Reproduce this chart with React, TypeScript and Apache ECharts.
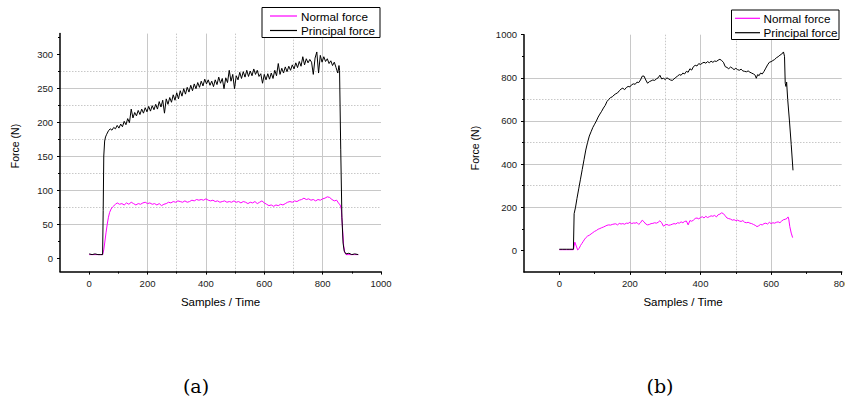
import React, { useEffect, useRef } from "react";
import * as echarts from "echarts";

// ---- Axis ticks ----
const A_X_MAJOR = [0, 200, 400, 600, 800, 1000];
const A_X_MINOR = [100, 300, 500, 700, 900];
const A_Y_MAJOR = [0, 50, 100, 150, 200, 250, 300];
const A_Y_MINOR = [25, 75, 125, 175, 225, 275, 325];
const B_X_MAJOR = [0, 200, 400, 600, 800];
const B_X_MINOR = [100, 300, 500, 700];
const B_Y_MAJOR = [0, 200, 400, 600, 800, 1000];
const B_Y_MINOR = [100, 300, 500, 700, 900];

const LEGEND_NAMES = ["Normal force", "Principal force"];
const X_TITLE = "Samples / Time";
const Y_TITLE = "Force (N)";
const CAPTIONS = ["(a)", "(b)"];

// ---- Chart (a) data: [sample, force N] ----
const aPrincipal = [
  [0, 6], [10, 5], [20, 6], [30, 5], [40, 5], [46, 5], [48, 70], [50, 150], [53, 172], [56, 178],
  [60, 182], [66, 187], [72, 190], [78, 188], [84, 192], [90, 190], [96, 195], [102, 191], [108, 197], [114, 193],
  [120, 201], [126, 196], [132, 205], [138, 199], [144, 219], [150, 206], [156, 214], [162, 209], [168, 217], [174, 211],
  [180, 219], [186, 213], [192, 221], [198, 215], [204, 223], [210, 216], [216, 224], [222, 218], [228, 226], [234, 219],
  [240, 230], [246, 222], [252, 232], [258, 213], [264, 234], [270, 226], [276, 236], [282, 229], [288, 240], [294, 232],
  [300, 243], [306, 234], [312, 246], [318, 238], [324, 249], [330, 241], [336, 251], [342, 244], [348, 254], [354, 246],
  [360, 256], [366, 249], [372, 258], [378, 251], [384, 260], [390, 253], [396, 263], [402, 256], [408, 262], [414, 254],
  [420, 260], [426, 252], [432, 262], [438, 255], [444, 266], [450, 257], [456, 264], [462, 249], [468, 265], [474, 258],
  [480, 276], [486, 260], [492, 270], [498, 249], [504, 268], [510, 262], [516, 273], [522, 264], [528, 274], [534, 266],
  [540, 276], [546, 267], [552, 275], [558, 268], [564, 278], [570, 270], [576, 276], [582, 267], [588, 271], [594, 257],
  [600, 270], [606, 262], [612, 271], [618, 263], [624, 272], [630, 264], [636, 276], [642, 268], [648, 286], [654, 270],
  [660, 279], [666, 272], [672, 281], [678, 274], [684, 282], [690, 276], [696, 284], [702, 278], [708, 287], [714, 280],
  [720, 289], [726, 282], [732, 296], [738, 284], [744, 293], [750, 287], [756, 292], [762, 288], [768, 270], [774, 294],
  [780, 303], [786, 272], [792, 298], [798, 288], [804, 296], [810, 289], [816, 293], [822, 286], [828, 290], [834, 283],
  [840, 288], [846, 280], [852, 272], [856, 283], [858, 276], [862, 160], [866, 60], [870, 22], [874, 10], [880, 6],
  [890, 7], [900, 5], [910, 6], [922, 5],
];

const aNormal = [
  [0, 5], [10, 5], [20, 5], [30, 5], [40, 5], [46, 5], [50, 12], [54, 25], [58, 38], [62, 50],
  [66, 60], [70, 67], [75, 72], [80, 75], [85, 77], [90, 79], [96, 81], [104, 79], [112, 80], [120, 78],
  [128, 81], [136, 79], [144, 82], [152, 80], [160, 78], [168, 80], [176, 79], [184, 81], [192, 82], [200, 80],
  [208, 81], [216, 79], [224, 80], [232, 78], [240, 80], [248, 77], [256, 79], [264, 80], [272, 82], [280, 81],
  [288, 83], [296, 82], [304, 84], [312, 83], [320, 82], [328, 84], [336, 82], [344, 83], [352, 85], [360, 84],
  [368, 86], [376, 85], [384, 86], [392, 85], [400, 87], [408, 85], [416, 84], [424, 85], [432, 83], [440, 84],
  [448, 82], [456, 83], [464, 84], [472, 82], [480, 83], [488, 82], [496, 84], [504, 82], [512, 83], [520, 81],
  [528, 83], [536, 82], [544, 80], [552, 82], [560, 81], [568, 83], [576, 80], [584, 82], [592, 84], [600, 81],
  [608, 79], [616, 77], [624, 78], [632, 76], [640, 78], [648, 77], [656, 79], [664, 78], [672, 80], [680, 82],
  [688, 83], [696, 82], [704, 84], [712, 83], [720, 85], [728, 86], [736, 88], [744, 86], [752, 87], [760, 85],
  [768, 86], [776, 84], [784, 86], [792, 85], [800, 87], [808, 88], [816, 90], [824, 89], [832, 86], [840, 84],
  [848, 85], [854, 81], [860, 78], [864, 72], [868, 45], [872, 18], [876, 8], [880, 5], [890, 5], [900, 5],
  [910, 5], [922, 5],
];

// ---- Chart (b) data ----
const bPrincipal = [
  [0, 5], [10, 5], [20, 5], [30, 5], [40, 5], [42, 170], [46, 200], [50, 240], [55, 285], [60, 330],
  [65, 375], [70, 420], [75, 465], [80, 500], [85, 530], [90, 550], [95, 570], [100, 585], [105, 600], [110, 618],
  [115, 632], [120, 645], [125, 660], [130, 672], [135, 690], [140, 700], [145, 708], [150, 712], [155, 720], [160, 726],
  [165, 730], [170, 740], [175, 748], [180, 752], [185, 745], [190, 755], [195, 760], [200, 758], [205, 768], [210, 772],
  [215, 770], [220, 780], [225, 778], [230, 790], [235, 808], [240, 808], [245, 790], [250, 775], [255, 782], [260, 786],
  [265, 790], [270, 788], [275, 795], [280, 800], [285, 812], [290, 795], [295, 798], [300, 792], [305, 800], [310, 795],
  [315, 790], [320, 788], [325, 795], [330, 802], [335, 808], [340, 815], [345, 812], [350, 822], [355, 818], [360, 830],
  [365, 826], [370, 842], [375, 836], [380, 852], [385, 858], [390, 855], [395, 866], [400, 862], [405, 868], [410, 872],
  [415, 868], [420, 875], [425, 870], [430, 877], [435, 872], [440, 878], [445, 876], [450, 882], [455, 886], [460, 880],
  [465, 872], [470, 852], [475, 848], [480, 842], [485, 850], [490, 845], [495, 838], [500, 844], [505, 838], [510, 835],
  [515, 840], [520, 832], [525, 830], [530, 828], [535, 832], [540, 826], [545, 822], [550, 818], [555, 812], [558, 798],
  [562, 815], [566, 810], [570, 822], [575, 818], [580, 830], [585, 845], [590, 860], [595, 872], [600, 875], [605, 880],
  [610, 885], [615, 893], [620, 898], [625, 905], [630, 910], [635, 920], [638, 900], [640, 775], [642, 760], [644, 780],
  [647, 700], [652, 600], [657, 490], [662, 371],
];

const bNormal = [
  [0, 3], [10, 3], [20, 3], [30, 3], [40, 3], [44, 38], [48, 20], [52, 2], [56, 8], [60, 22],
  [64, 32], [68, 42], [72, 52], [76, 60], [80, 66], [85, 70], [90, 76], [95, 82], [100, 88], [105, 92],
  [110, 98], [115, 101], [120, 105], [125, 108], [130, 112], [135, 116], [140, 118], [145, 117], [150, 120], [155, 122],
  [160, 123], [165, 118], [170, 125], [175, 122], [180, 124], [185, 121], [190, 126], [195, 125], [200, 130], [205, 124],
  [210, 127], [215, 126], [220, 129], [225, 120], [230, 128], [235, 140], [240, 132], [245, 122], [250, 118], [255, 120],
  [260, 124], [265, 125], [270, 128], [275, 126], [280, 130], [285, 137], [290, 128], [295, 112], [300, 118], [305, 120],
  [310, 116], [315, 118], [320, 121], [325, 124], [330, 122], [335, 128], [340, 126], [345, 132], [350, 128], [355, 134],
  [360, 136], [365, 118], [370, 138], [375, 135], [380, 140], [385, 148], [390, 150], [395, 146], [400, 152], [405, 156],
  [410, 150], [415, 158], [420, 152], [425, 156], [430, 160], [435, 158], [440, 162], [445, 155], [450, 165], [455, 168],
  [460, 174], [465, 170], [470, 160], [475, 150], [480, 147], [485, 145], [490, 140], [495, 142], [500, 138], [505, 140],
  [510, 136], [515, 134], [520, 138], [525, 130], [530, 128], [535, 130], [540, 126], [545, 124], [550, 120], [555, 116],
  [560, 110], [565, 114], [570, 120], [575, 118], [580, 124], [585, 126], [590, 122], [595, 130], [600, 124], [605, 128],
  [610, 126], [615, 130], [620, 132], [625, 128], [630, 136], [635, 142], [640, 144], [645, 148], [648, 155], [650, 145],
  [653, 110], [657, 80], [661, 59],
];

const SANS = "'Liberation Sans', Arial, sans-serif";
const GRID_COLOR = "#c8c8c8";

function majorAxis(gridIndex: number, min: number, max: number, ticks: number[], position: string) {
  return {
    type: "value",
    gridIndex,
    min,
    max,
    position,
    axisLine: { show: true, onZero: false, lineStyle: { color: "#000", width: 1.5 } },
    axisTick: { show: true, inside: false, length: 3, customValues: ticks, lineStyle: { color: "#000", width: 1 } },
    axisLabel: {
      show: true,
      customValues: ticks,
      formatter: (v: number) => String(v),
      fontSize: 9.5,
      color: "#1a1a1a",
      fontFamily: SANS,
      margin: 7,
    },
    splitLine: { show: true, showMinLine: false, showMaxLine: false, lineStyle: { color: GRID_COLOR, width: 1 } },
  };
}

function minorAxis(gridIndex: number, min: number, max: number, ticks: number[], position: string) {
  return {
    type: "value",
    gridIndex,
    min,
    max,
    position,
    axisLine: { show: false, onZero: false },
    axisTick: { show: true, inside: false, length: 2, customValues: ticks, lineStyle: { color: "#000", width: 1 } },
    axisLabel: { show: false },
    splitLine: {
      show: true,
      showMinLine: false,
      showMaxLine: false,
      lineStyle: { color: GRID_COLOR, width: 1, type: [1.5, 1.5] },
    },
  };
}

function legend(x: number, y: number, w: number, h: number, lineX1: number, lineX2: number, textX: number, row1: number, row2: number) {
  return [
    { type: "rect", z: 100, shape: { x, y, width: w, height: h }, style: { fill: "#fff", stroke: "#000", lineWidth: 1 } },
    { type: "line", z: 101, shape: { x1: lineX1, y1: row1, x2: lineX2, y2: row1 }, style: { stroke: "#ff00ff", lineWidth: 1.2 } },
    { type: "text", z: 101, x: textX, y: row1, style: { text: LEGEND_NAMES[0], fontSize: 11.7, fontFamily: SANS, fill: "#000", verticalAlign: "middle", align: "left" } },
    { type: "line", z: 101, shape: { x1: lineX1, y1: row2, x2: lineX2, y2: row2 }, style: { stroke: "#000", lineWidth: 1.2 } },
    { type: "text", z: 101, x: textX, y: row2, style: { text: LEGEND_NAMES[1], fontSize: 11.7, fontFamily: SANS, fill: "#000", verticalAlign: "middle", align: "left" } },
  ];
}

function titleText(text: string, x: number, y: number, size: number, rotate = 0, font = SANS) {
  return {
    type: "text",
    x,
    y,
    rotation: rotate,
    style: { text, fontSize: size, fontFamily: font, fill: "#000", align: "center", verticalAlign: "middle" },
  };
}

export default function App() {
  const ref = useRef<HTMLDivElement>(null);
  useEffect(() => {
    if (!ref.current) return;
    const chart = echarts.init(ref.current, null, { renderer: "svg" });
    const lineSeries = (data: number[][], color: string, axis: number, name: string) => ({
      type: "line",
      name,
      xAxisIndex: axis,
      yAxisIndex: axis,
      data,
      showSymbol: false,
      symbol: "none",
      lineStyle: { color, width: 1 },
      itemStyle: { color },
      emphasis: { disabled: true },
    });
    chart.setOption({
      animation: false,
      backgroundColor: "#fff",
      grid: [
        { left: 60, top: 33.6, width: 321, height: 238, outerBoundsMode: "none", containLabel: false },
        { left: 524, top: 34.7, width: 317.7, height: 237.2, outerBoundsMode: "none", containLabel: false },
      ],
      xAxis: [
        majorAxis(0, -100, 1000, A_X_MAJOR, "bottom"),
        minorAxis(0, -100, 1000, A_X_MINOR, "bottom"),
        majorAxis(1, -100, 800, B_X_MAJOR, "bottom"),
        minorAxis(1, -100, 800, B_X_MINOR, "bottom"),
      ],
      yAxis: [
        majorAxis(0, -20, 330, A_Y_MAJOR, "left"),
        minorAxis(0, -20, 330, A_Y_MINOR, "left"),
        majorAxis(1, -100, 1000, B_Y_MAJOR, "left"),
        minorAxis(1, -100, 1000, B_Y_MINOR, "left"),
      ],
      series: [
        lineSeries(aNormal, "#ff00ff", 0, LEGEND_NAMES[0]),
        lineSeries(aPrincipal, "#000000", 0, LEGEND_NAMES[1]),
        lineSeries(bNormal, "#ff00ff", 2, LEGEND_NAMES[0]),
        lineSeries(bPrincipal, "#000000", 2, LEGEND_NAMES[1]),
      ],
      graphic: [
        ...legend(262, 7.5, 118, 30, 270, 297, 301, 16, 30.5),
        ...legend(731.5, 10, 107.5, 29.5, 735, 760, 763.5, 18.3, 32.7),
        titleText(Y_TITLE, 15, 146, 10.5, Math.PI / 2),
        titleText(Y_TITLE, 475, 148, 10.5, Math.PI / 2),
        titleText(X_TITLE, 220.5, 302, 11.5),
        titleText(X_TITLE, 683, 302, 11.5),
        titleText(CAPTIONS[0], 196, 386, 19, 0, "'DejaVu Serif', serif"),
        titleText(CAPTIONS[1], 660, 386, 19, 0, "'DejaVu Serif', serif"),
      ],
    });
    return () => chart.dispose();
  }, []);
  return (
    <div
      ref={ref}
      style={{ position: "absolute", left: 0, top: 0, width: 845, height: 401, background: "#fff" }}
    />
  );
}
